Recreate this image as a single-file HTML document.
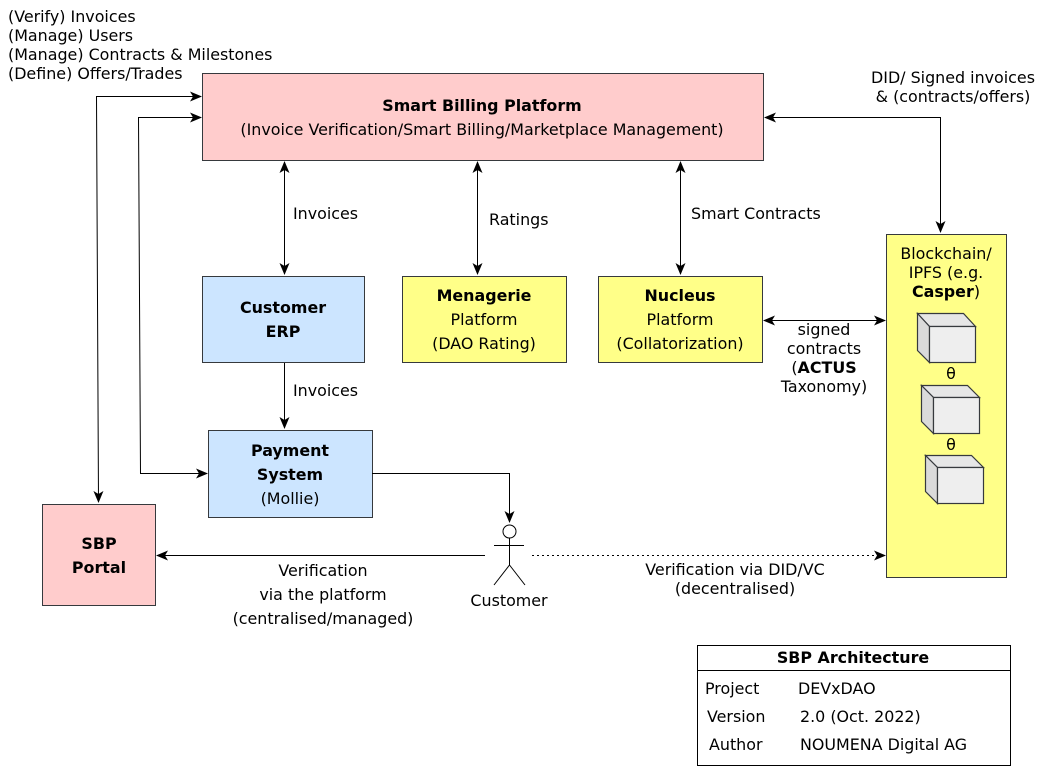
<!DOCTYPE html>
<html><head><meta charset="utf-8"><style>
html,body{margin:0;padding:0;background:#fff;}
svg text{font-family:"DejaVu Sans","Liberation Sans",sans-serif;font-size:15.9px;fill:#000;}
.b{font-weight:bold;}
</style></head><body>
<svg width="1056" height="774" viewBox="0 0 1056 774" xmlns="http://www.w3.org/2000/svg">
<defs>
<marker id="a" viewBox="0 0 12 10" refX="11" refY="5" markerWidth="12" markerHeight="10" markerUnits="userSpaceOnUse" orient="auto-start-reverse"><path d="M0,0 L12,5 L0,10 L3,5 z" fill="#000"/></marker>
</defs>
<g stroke="#36393d" stroke-width="1">
<rect x="202.5" y="73.5" width="561" height="87" fill="#ffcccc"/>
<rect x="202.5" y="276.5" width="162" height="86" fill="#cce5ff"/>
<rect x="402.5" y="276.5" width="164" height="86" fill="#ffff88"/>
<rect x="598.5" y="276.5" width="164" height="86" fill="#ffff88"/>
<rect x="208.5" y="430.5" width="164" height="87" fill="#cce5ff"/>
<rect x="42.5" y="504.5" width="113" height="101" fill="#ffcccc"/>
<rect x="886.5" y="234.5" width="120" height="343" fill="#ffff88"/>
</g>
<g stroke="#36393d" stroke-width="1.2">
<path d="M917.5,313.5 L963.5,313.5 L975.5,326.5 L929.5,326.5 Z" fill="#e6e6e6"/>
<path d="M917.5,313.5 L929.5,326.5 L929.5,362.5 L917.5,350.5 Z" fill="#dadada"/>
<rect x="929.5" y="326.5" width="46" height="36" fill="#eeeeee"/>
<path d="M921.5,385.5 L967.5,385.5 L979.5,397.5 L933.5,397.5 Z" fill="#e6e6e6"/>
<path d="M921.5,385.5 L933.5,397.5 L933.5,433.5 L921.5,421.5 Z" fill="#dadada"/>
<rect x="933.5" y="397.5" width="46" height="36" fill="#eeeeee"/>
<path d="M925.5,455.5 L971.5,455.5 L983.5,467.5 L937.5,467.5 Z" fill="#e6e6e6"/>
<path d="M925.5,455.5 L937.5,467.5 L937.5,503.5 L925.5,491.5 Z" fill="#dadada"/>
<rect x="937.5" y="467.5" width="46" height="36" fill="#eeeeee"/>
</g>
<g stroke="#000" fill="none" stroke-width="1">
<path d="M284.5,162 V274" marker-start="url(#a)" marker-end="url(#a)"/>
<path d="M477.5,162 V274" marker-start="url(#a)" marker-end="url(#a)"/>
<path d="M680.5,162 V274" marker-start="url(#a)" marker-end="url(#a)"/>
<path d="M284.5,363 V428" marker-end="url(#a)"/>
<path d="M98.5,502 L96.5,96.5 H201" marker-start="url(#a)" marker-end="url(#a)"/>
<path d="M201,117.5 H138.5 L140.5,473.5 H207" marker-start="url(#a)" marker-end="url(#a)"/>
<path d="M765,117.5 H940.5 V232" marker-start="url(#a)" marker-end="url(#a)"/>
<path d="M764,320.5 H885" marker-start="url(#a)" marker-end="url(#a)"/>
<path d="M372,473.5 H509.5 V522" marker-end="url(#a)"/>
<path d="M485,555.5 H157" marker-end="url(#a)"/>
<path d="M532,555.5 H885" stroke-dasharray="2,3" marker-end="url(#a)"/>
<circle cx="509.5" cy="531.5" r="6.5" fill="#fff"/>
<path d="M494,545.5 H524 M509.5,538 V565 L494,585 M509.5,565 L525,585"/>
</g>
<text x="8" y="22">(Verify) Invoices</text>
<text x="8" y="41">(Manage) Users</text>
<text x="8" y="60">(Manage) Contracts &amp; Milestones</text>
<text x="8" y="79">(Define) Offers/Trades</text>
<text x="482" y="111" text-anchor="middle" class="b">Smart Billing Platform</text>
<text x="482" y="135" text-anchor="middle">(Invoice Verification/Smart Billing/Marketplace Management)</text>
<text x="953" y="83" text-anchor="middle">DID/ Signed invoices</text>
<text x="953" y="102" text-anchor="middle">&amp; (contracts/offers)</text>
<text x="293" y="219">Invoices</text>
<text x="489" y="225">Ratings</text>
<text x="691" y="219">Smart Contracts</text>
<text x="283" y="313" text-anchor="middle" class="b">Customer</text>
<text x="283" y="337" text-anchor="middle" class="b">ERP</text>
<text x="484" y="301" text-anchor="middle" class="b">Menagerie</text>
<text x="484" y="325" text-anchor="middle">Platform</text>
<text x="484" y="349" text-anchor="middle">(DAO Rating)</text>
<text x="680" y="301" text-anchor="middle" class="b">Nucleus</text>
<text x="680" y="325" text-anchor="middle">Platform</text>
<text x="680" y="349" text-anchor="middle">(Collatorization)</text>
<text x="946" y="259" text-anchor="middle">Blockchain/</text>
<text x="946" y="278" text-anchor="middle">IPFS (e.g.</text>
<text x="946" y="297" text-anchor="middle"><tspan class="b">Casper</tspan>)</text>
<text x="951" y="379" text-anchor="middle">θ</text>
<text x="951" y="450" text-anchor="middle">θ</text>
<text x="824" y="335" text-anchor="middle">signed</text>
<text x="824" y="354" text-anchor="middle">contracts</text>
<text x="824" y="373" text-anchor="middle">(<tspan class="b">ACTUS</tspan></text>
<text x="824" y="392" text-anchor="middle">Taxonomy)</text>
<text x="293" y="396">Invoices</text>
<text x="290" y="456" text-anchor="middle" class="b">Payment</text>
<text x="290" y="480" text-anchor="middle" class="b">System</text>
<text x="290" y="504" text-anchor="middle">(Mollie)</text>
<text x="99" y="549" text-anchor="middle" class="b">SBP</text>
<text x="99" y="573" text-anchor="middle" class="b">Portal</text>
<text x="323" y="576" text-anchor="middle">Verification</text>
<text x="323" y="600" text-anchor="middle">via the platform</text>
<text x="323" y="624" text-anchor="middle">(centralised/managed)</text>
<text x="509" y="606" text-anchor="middle">Customer</text>
<text x="735" y="575" text-anchor="middle">Verification via DID/VC</text>
<text x="735" y="594" text-anchor="middle">(decentralised)</text>
<rect x="697.5" y="645.5" width="313" height="120" fill="none" stroke="#000"/>
<line x1="697.5" y1="670.5" x2="1010.5" y2="670.5" stroke="#000"/>
<text x="853" y="663" text-anchor="middle" class="b">SBP Architecture</text>
<text x="705" y="694">Project</text>
<text x="707" y="722">Version</text>
<text x="709" y="750">Author</text>
<text x="798" y="694">DEVxDAO</text>
<text x="800" y="722">2.0 (Oct. 2022)</text>
<text x="800" y="750">NOUMENA Digital AG</text>
</svg>
</body></html>
